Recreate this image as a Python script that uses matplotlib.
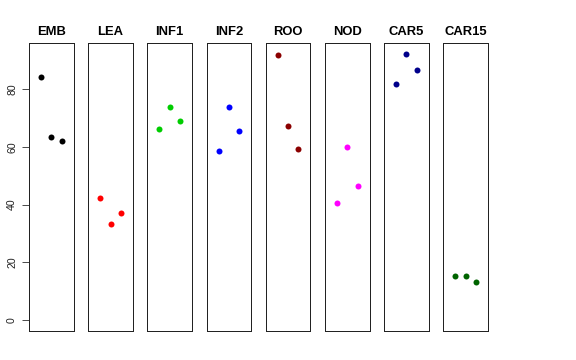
import matplotlib
matplotlib.use("Agg")
import matplotlib.pyplot as plt

plt.rcParams['font.family'] = ['Liberation Sans', 'DejaVu Sans']

tissues = ["EMB", "LEA", "INF1", "INF2", "ROO", "NOD", "CAR5", "CAR15"]
colors = ["#000000", "#FF0000", "#00CD00", "#0000FF", "#8B0000", "#FF00FF", "#00008B", "#006400"]
emb = [84.3, 63.3, 62.0]
lea = [42.4, 33.2, 37.1]
inf1 = [66.0, 73.9, 68.9]
inf2 = [58.7, 73.9, 65.3]
roo = [91.9, 67.1, 59.4]
nod = [40.4, 60.0, 46.6]
car5 = [81.6, 92.1, 86.6]
car15 = [15.3, 15.2, 13.1]
series = [emb, lea, inf1, inf2, roo, nod, car5, car15]
yticks = [0, 20, 40, 60, 80]

fig = plt.figure(figsize=(8, 5), dpi=72)
left, right, bottom, top = 29/576, 488/576, 1-331/360, 1-43.3/360
n = len(tissues)
step = (right - left - 44.7/576) / (n - 1)
w = 44.7/576
ymin, ymax = 0, max(max(s) for s in series)
pad = 0.04 * (ymax - ymin)
for i, (name, col, vals) in enumerate(zip(tissues, colors, series)):
    ax = fig.add_axes([left + i*step, bottom, w, top-bottom])
    xs = list(range(1, len(vals)+1))
    ax.plot(xs, vals, 'o', color=col, markersize=6, markeredgewidth=0)
    ax.set_xlim(0 - 0.16, 4 + 0.16)
    ax.set_ylim(ymin - pad, ymax + pad)
    ax.set_xticks([])
    for s in ax.spines.values():
        s.set_linewidth(1.0)
        s.set_color('#222222')
    ax.set_title(name, fontsize=13, fontweight='bold', pad=8)
    if i == 0:
        ax.set_yticks(yticks)
        ax.set_yticklabels([str(t) for t in yticks], rotation=90, va='center', fontsize=10.5, color='#222222')
        ax.tick_params(axis='y', length=7, width=0.8, pad=5, color='#222222')
    else:
        ax.set_yticks([])

fig.savefig("out.png", dpi=72)
